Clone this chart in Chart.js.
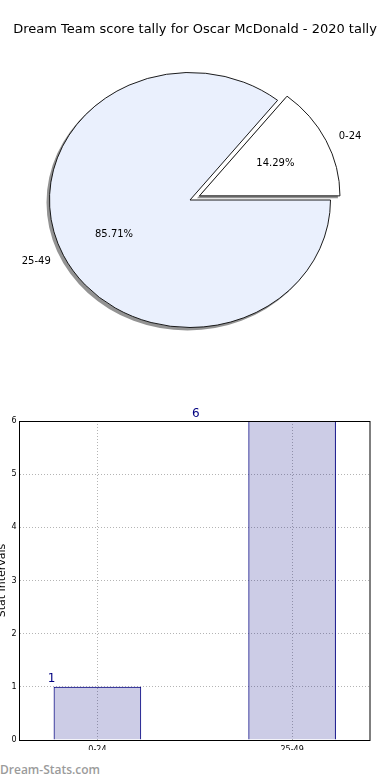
<!DOCTYPE html>
<html><head><meta charset="utf-8">
<script src="https://cdn.jsdelivr.net/npm/chart.js@4.4.1/dist/chart.umd.min.js"></script>
<style>
html,body{margin:0;padding:0;background:#fff;width:390px;height:780px;overflow:hidden;position:relative;}
#title{position:absolute;left:0;top:21px;width:390px;text-align:center;font:13px "DejaVu Sans",sans-serif;color:#000;white-space:nowrap;}
#pieWrap{position:absolute;left:0;top:0;width:390px;height:390px;}
#barWrap{position:absolute;left:0;top:400px;width:390px;height:350px;}
#wm{position:absolute;left:0;top:761px;font:600 12px "Open Sans",sans-serif;color:#9b9b9b;}
</style></head><body>
<div id="pieWrap"><canvas id="pie" width="390" height="390"></canvas></div>
<div id="title"></div>
<div id="barWrap"><canvas id="bar" width="390" height="350"></canvas></div>
<div id="wm">Dream-Stats.com</div>
<script>
const chartTitle = 'Dream Team score tally for Oscar McDonald - 2020 tally';
const categories = ['0-24', '25-49'];
const tallies = [1, 6];
const pieColors = ['#ffffff', '#eaf0fd'];
const explode = [10.5, 0];
const yTicks = [0, 1, 2, 3, 4, 5, 6];
const yAxisTitle = 'Stat Intervals';
const watermark = 'Dream-Stats.com';

document.getElementById('title').textContent = chartTitle;
document.getElementById('wm').textContent = watermark;

const PIE_R = 140.5, PIE_SY = 127.5 / 140.5;
const total = tallies.reduce((a, b) => a + b, 0);

function arcGeom(arc, i) {
  const p = arc.getProps(['x', 'y', 'startAngle', 'endAngle', 'outerRadius']);
  const mid = (p.startAngle + p.endAngle) / 2;
  const d = explode[i] || 0;
  return {x: p.x, y: p.y, ex: p.x + Math.cos(mid) * d, ey: p.y + Math.sin(mid) * d,
          dx: Math.cos(mid) * d, dy: Math.sin(mid) * d,
          mid, r: p.outerRadius, s: p.startAngle, e: p.endAngle};
}

const pieStretch = {
  id: 'pieStretch',
  beforeDatasetsDraw(chart) {
    const ctx = chart.ctx;
    const arcs = chart.getDatasetMeta(0).data;
    // explode slices by shifting their drawing along the mid angle
    arcs.forEach((arc, i) => {
      if (!arc._exploded) {
        const orig = arc.draw;
        arc.draw = function (c) {
          const g = arcGeom(this, i);
          c.save();
          c.translate(g.dx, g.dy);
          orig.call(this, c);
          c.restore();
        };
        arc._exploded = true;
      }
    });
    const cx = arcs[0].x, cy = arcs[0].y;
    ctx.save();
    ctx.translate(cx, cy); ctx.scale(1, PIE_SY); ctx.translate(-cx, -cy);
    // shadow
    arcs.forEach((arc, i) => {
      const g = arcGeom(arc, i);
      const ox = g.ex - 2.5, oy = g.ey + 2.5 / PIE_SY;
      ctx.beginPath();
      ctx.moveTo(ox, oy);
      ctx.arc(ox, oy, g.r + 0.5, g.s, g.e);
      ctx.closePath();
      ctx.fillStyle = 'rgba(40,40,40,0.5)';
      ctx.fill();
    });
  },
  afterDatasetsDraw(chart) {
    const ctx = chart.ctx;
    ctx.restore();
    const arcs = chart.getDatasetMeta(0).data;
    ctx.save();
    ctx.font = '10px "DejaVu Sans"';
    ctx.fillStyle = '#000';
    ctx.textBaseline = 'middle';
    arcs.forEach((arc, i) => {
      const g = arcGeom(arc, i);
      const c = Math.cos(g.mid), s = Math.sin(g.mid);
      const map = (yy) => g.y + (yy - g.y) * PIE_SY + 1;
      const lx = g.ex + c * 1.1 * g.r, ly = map(g.ey + s * 1.1 * g.r);
      ctx.textAlign = c >= 0 ? 'left' : 'right';
      ctx.fillText(categories[i], lx, ly);
      const px = g.ex + c * 0.6 * g.r, py = map(g.ey + s * 0.6 * g.r);
      ctx.textAlign = 'center';
      ctx.fillText((tallies[i] / total * 100).toFixed(2) + '%', px, py);
    });
    ctx.restore();
  }
};

new Chart(document.getElementById('pie'), {
  type: 'pie',
  data: {
    labels: categories,
    datasets: [{
      data: tallies,
      backgroundColor: pieColors,
      borderColor: '#111',
      borderWidth: 1,
      clip: false
    }]
  },
  options: {
    responsive: false,
    animation: false,
    devicePixelRatio: 1,
    radius: PIE_R,
    rotation: 90 - 360 * tallies[0] / total,
    layout: {padding: {top: 10, right: 10, bottom: 0, left: 0}},
    plugins: {legend: {display: false}, tooltip: {enabled: false}, title: {display: false}}
  },
  plugins: [pieStretch]
});

const frame = {
  id: 'frame',
  afterDatasetsDraw(chart) {
    const {ctx, chartArea: a} = chart;
    ctx.save();
    ctx.strokeStyle = '#000';
    ctx.lineWidth = 1;
    ctx.strokeRect(a.left, a.top + 0.5, a.right - a.left, a.bottom - a.top);
    ctx.restore();
  }
};

const valueLabels = {
  id: 'valueLabels',
  afterDatasetsDraw(chart) {
    const ctx = chart.ctx;
    const bars = chart.getDatasetMeta(0).data;
    const xs = chart.scales.x;
    ctx.save();
    ctx.font = '12px "DejaVu Sans"';
    ctx.fillStyle = '#000080';
    ctx.textAlign = 'center';
    ctx.textBaseline = 'alphabetic';
    bars.forEach((b, i) => {
      const p = b.getProps(['x', 'y', 'width']);
      const x = i === 0 ? p.x - p.width / 2 - 2 : xs.getPixelForValue(0.5) + 1;
      ctx.fillText(String(tallies[i]), x, p.y - 4.5);
    });
    ctx.restore();
  }
};

const gridStyle = {color: '#b4b4b4', lineWidth: 1, drawTicks: false, offset: false};

new Chart(document.getElementById('bar'), {
  type: 'bar',
  data: {
    datasets: [{
      data: categories.map((c, i) => ({x: i, y: tallies[i]})),
      backgroundColor: 'rgba(0,0,128,0.2)',
      borderColor: '#000080',
      borderWidth: 1,
      categoryPercentage: 1,
      barPercentage: 0.45
    }]
  },
  options: {
    responsive: false,
    animation: false,
    devicePixelRatio: 1,
    layout: {padding: {top: 21, right: 20, bottom: 0, left: 0}},
    plugins: {legend: {display: false}, tooltip: {enabled: false}},
    scales: {
      x: {
        type: 'linear', min: -0.4, max: 1.4, offset: false,
        afterBuildTicks(s) { s.ticks = categories.map((c, i) => ({value: i})); },
        afterFit(s) { s.height = 10; },
        ticks: {callback: (v) => categories[v], font: {family: 'DejaVu Sans', size: 8}, color: '#000', padding: 5, maxRotation: 0, autoSkip: false},
        grid: gridStyle,
        border: {display: false, dash: [1, 2]}
      },
      y: {
        min: 0, max: 6,
        afterBuildTicks(s) { s.ticks = yTicks.map(v => ({value: v})); },
        afterFit(s) { s.width = 19.5; },
        ticks: {font: {family: 'DejaVu Sans', size: 8}, color: '#000', padding: 3},
        grid: gridStyle,
        border: {display: false, dash: [1, 2]},
        title: {display: true, text: yAxisTitle, color: '#000', font: {family: 'DejaVu Sans', size: 11}, padding: {top: -4, bottom: 0}}
      }
    }
  },
  plugins: [frame, valueLabels]
});
</script>
</body></html>
